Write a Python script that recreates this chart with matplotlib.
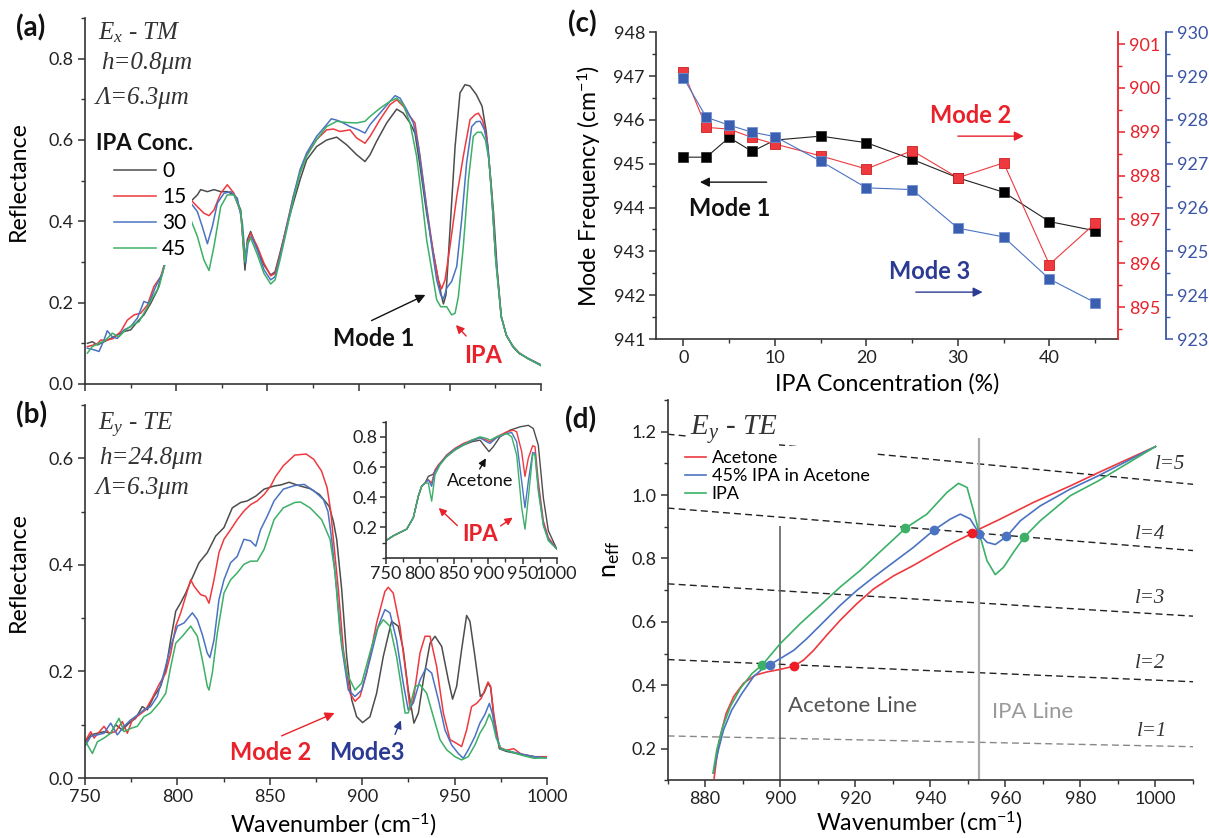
import matplotlib
matplotlib.use("Agg")
import matplotlib.pyplot as plt
from matplotlib.ticker import MultipleLocator

plt.rcParams['font.family'] = ['Lato', 'DejaVu Sans']
plt.rcParams['mathtext.fontset'] = 'custom'
plt.rcParams['mathtext.rm'] = 'Lato'
plt.rcParams['mathtext.it'] = 'Liberation Serif:italic'
plt.rcParams['mathtext.bf'] = 'Lato:bold'
plt.rcParams['axes.linewidth'] = 1.2

W, H = 1209, 838
GREY = '#4d4d4d'
RED = '#ee3a3f'
BLUE = '#4a73c2'
GREEN = '#3cb067'
TXT_RED = '#e8212a'
TXT_NAVY = '#2b3a92'
SERIF = 'Liberation Serif'
LABEL_SIZE = 16.7

# ---- (a) Ex-TM reflectance, IPA concentration 0/15/30/45 %
tm_0 = [(751.3, 0.100), (754, 0.104), (756.8, 0.096), (760.4, 0.104), (764.1, 0.112), (767.7, 0.121),
        (771.4, 0.129), (775, 0.133), (778.7, 0.153), (782.3, 0.170), (786, 0.198), (789.7, 0.231),
        (792.4, 0.272), (795.1, 0.318), (799, 0.38), (801.5, 0.41), (804.3, 0.432), (808, 0.449),
        (811.6, 0.465), (813.4, 0.478), (817.1, 0.473), (820.7, 0.478), (824.4, 0.473), (828, 0.473),
        (831.7, 0.465), (835.4, 0.428), (837.7, 0.28), (839, 0.355), (840.8, 0.375), (844.5, 0.330),
        (848.1, 0.293), (851.8, 0.268), (854.2, 0.276), (856.9, 0.322), (860.6, 0.387), (864.2, 0.445),
        (867.9, 0.502), (871.5, 0.551), (877, 0.584), (882.5, 0.6), (888, 0.607), (893.5, 0.588),
        (898.9, 0.564), (903.5, 0.547), (906.3, 0.564), (909.9, 0.597), (915.4, 0.642), (920.9, 0.676),
        (924.5, 0.666), (928.2, 0.642), (930.9, 0.617), (933.7, 0.535), (937.3, 0.420), (941, 0.322),
        (943.7, 0.256), (945.5, 0.215), (946.5, 0.197), (947.9, 0.219), (950.1, 0.379), (952.9, 0.584),
        (955.6, 0.716), (958.3, 0.736), (961, 0.733), (964.5, 0.712), (967.7, 0.683), (970, 0.62),
        (972.5, 0.5), (974, 0.42), (976, 0.28), (978.2, 0.166), (981, 0.12), (984.5, 0.092),
        (988, 0.075), (992.9, 0.063), (1000, 0.047)]
tm_15 = [(751.3, 0.092), (754, 0.095), (757, 0.1), (758.6, 0.108), (762.2, 0.108), (765.5, 0.112),
         (769.6, 0.129), (773.2, 0.157), (776.9, 0.170), (780.5, 0.174), (784.2, 0.194), (787.8, 0.24),
         (791.5, 0.264), (795.1, 0.318), (799, 0.38), (801.5, 0.415), (804.3, 0.436), (808, 0.453),
         (811.6, 0.436), (815.2, 0.42), (818, 0.414), (820.7, 0.428), (824.4, 0.469), (828, 0.490),
         (831.7, 0.469), (835.4, 0.42), (837.6, 0.305), (839, 0.346), (840.8, 0.371), (844.5, 0.338),
         (848.1, 0.297), (851.8, 0.266), (854.2, 0.272), (856.9, 0.318), (860.6, 0.391), (864.2, 0.461),
         (867.9, 0.519), (871.5, 0.564), (877, 0.601), (882.5, 0.625), (886.2, 0.627), (889.8, 0.621),
         (895.3, 0.625), (898.9, 0.605), (903.5, 0.592), (906.3, 0.609), (911.7, 0.650), (917.2, 0.687),
         (920.9, 0.699), (924.5, 0.683), (928.2, 0.658), (930.9, 0.642), (933.7, 0.560), (937.3, 0.436),
         (941, 0.322), (943.7, 0.256), (945.5, 0.234), (947.4, 0.256), (950.1, 0.338), (953.8, 0.461),
         (957.4, 0.560), (961.1, 0.650), (963.8, 0.662), (965.7, 0.666), (968, 0.648), (970.5, 0.6),
         (972.8, 0.48), (975, 0.32), (978.2, 0.166), (981, 0.12), (984.5, 0.094), (988, 0.077),
         (992.9, 0.062), (1000, 0.046)]
tm_30 = [(751.3, 0.088), (755, 0.084), (757.7, 0.080), (760.4, 0.108), (762.2, 0.131), (765, 0.116),
         (767.7, 0.112), (771.4, 0.133), (775, 0.141), (778.7, 0.162), (782.3, 0.203), (785.1, 0.198),
         (788.7, 0.239), (792.4, 0.272), (795.1, 0.318), (799, 0.38), (801.5, 0.41), (804.3, 0.432),
         (808, 0.445), (811.6, 0.424), (814.3, 0.387), (817.1, 0.345), (819.8, 0.387), (822.6, 0.445),
         (826.2, 0.469), (829.9, 0.473), (833.5, 0.457), (836.3, 0.395), (838.1, 0.297), (839.4, 0.346),
         (841.2, 0.363), (844.5, 0.330), (848.1, 0.281), (851.8, 0.256), (854.2, 0.264), (856.9, 0.313),
         (860.6, 0.387), (864.2, 0.461), (867.9, 0.527), (871.5, 0.568), (877, 0.609), (882.5, 0.638),
         (885, 0.652), (887.1, 0.650), (889.8, 0.646), (895.3, 0.633), (899.9, 0.625), (903.5, 0.617),
         (906.3, 0.638), (911.7, 0.666), (917.2, 0.695), (920, 0.709), (922.7, 0.703), (926.4, 0.674),
         (930, 0.642), (932.8, 0.584), (936.4, 0.461), (940.1, 0.338), (942.8, 0.256), (945, 0.219),
         (946.5, 0.209), (948.3, 0.236), (951, 0.252), (953.8, 0.289), (956.5, 0.404), (959.2, 0.543),
         (962, 0.633), (964.5, 0.645), (966.7, 0.646), (969, 0.625), (971, 0.58), (973, 0.46),
         (975, 0.32), (978.2, 0.166), (981, 0.12), (984.5, 0.093), (988, 0.076), (992.9, 0.063),
         (1000, 0.046)]
tm_45 = [(751.3, 0.076), (754, 0.092), (757.7, 0.100), (761.3, 0.108), (765, 0.125), (768.6, 0.116),
         (772.3, 0.133), (775.9, 0.145), (779.6, 0.153), (783.3, 0.182), (786.9, 0.211), (790.6, 0.239),
         (795.1, 0.318), (799, 0.37), (801.5, 0.40), (804.3, 0.416), (808, 0.404), (811.6, 0.363),
         (815.2, 0.305), (818, 0.279), (820.7, 0.338), (824.4, 0.436), (828, 0.465), (831.7, 0.465),
         (835.4, 0.424), (837.6, 0.301), (839, 0.346), (840.8, 0.359), (844.5, 0.318), (848.1, 0.272),
         (851.8, 0.246), (854.2, 0.256), (856.9, 0.305), (860.6, 0.379), (864.2, 0.453), (867.9, 0.519),
         (871.5, 0.560), (877, 0.601), (882.5, 0.633), (888, 0.646), (893.5, 0.643), (898.9, 0.642),
         (903.5, 0.646), (906.3, 0.658), (911.7, 0.678), (917.2, 0.695), (920.9, 0.703), (924.5, 0.687),
         (928.2, 0.642), (931.8, 0.560), (934.6, 0.461), (937.3, 0.355), (941, 0.256), (942.8, 0.207),
         (945, 0.190), (948.3, 0.190), (951, 0.170), (952.9, 0.174), (954.7, 0.215), (957.4, 0.338),
         (960.2, 0.502), (962.9, 0.609), (965, 0.619), (967.3, 0.619), (969.5, 0.6), (971.5, 0.55),
         (973.5, 0.43), (975.2, 0.3), (978.2, 0.166), (981, 0.12), (984.5, 0.093), (988, 0.076),
         (992.9, 0.062), (1000, 0.045)]

# ---- (b) Ey-TE reflectance
te_0 = [(750.4, 0.068), (753.1, 0.081), (756.7, 0.084), (760.3, 0.087), (763.9, 0.084), (766.6, 0.100),
        (770.2, 0.090), (773.8, 0.103), (777.4, 0.112), (781, 0.134), (783.7, 0.128), (787.3, 0.153),
        (790.9, 0.172), (793.7, 0.203), (796.4, 0.260), (799.1, 0.313), (801.8, 0.329), (804.5, 0.347),
        (807.2, 0.369), (811.7, 0.404), (816.2, 0.423), (820.7, 0.454), (825.2, 0.470), (829.7, 0.507),
        (834.2, 0.517), (837.8, 0.520), (842.4, 0.529), (846.9, 0.542), (852.3, 0.548), (856, 0.55),
        (860.4, 0.555), (866.4, 0.548), (871.8, 0.543), (876.9, 0.532), (882.1, 0.510), (884.5, 0.48),
        (886.2, 0.448), (888.9, 0.354), (891.6, 0.228), (894.3, 0.147), (897, 0.115), (900.2, 0.104),
        (904.2, 0.115), (907.8, 0.159), (911.4, 0.228), (915.9, 0.294), (919.5, 0.285), (922.2, 0.241),
        (924.9, 0.166), (928, 0.103), (930.4, 0.122), (933.1, 0.184), (936.7, 0.253), (939.4, 0.266),
        (943, 0.247), (946.6, 0.184), (948.9, 0.148), (951.1, 0.172), (953.8, 0.241), (956.5, 0.305),
        (958.3, 0.294), (961, 0.228), (963.9, 0.153), (966, 0.16), (968.1, 0.178), (969.5, 0.17),
        (971.2, 0.115), (974.2, 0.055), (978, 0.05), (985, 0.045), (993, 0.04), (1000, 0.038)]
te_15 = [(750.4, 0.071), (753.1, 0.087), (754.9, 0.075), (760.3, 0.097), (763, 0.084), (766.6, 0.087),
         (770.2, 0.106), (772.9, 0.084), (775.6, 0.109), (779.2, 0.118), (782.8, 0.128), (786.4, 0.150),
         (790, 0.175), (793.7, 0.197), (796.4, 0.234), (799.1, 0.285), (801.8, 0.310), (804.5, 0.341),
         (807.2, 0.372), (809, 0.360), (812.6, 0.344), (815.3, 0.341), (817.1, 0.328), (819.8, 0.372),
         (822.5, 0.423), (825.2, 0.448), (828.8, 0.466), (832.4, 0.485), (836, 0.501), (839.6, 0.513),
         (843.2, 0.520), (846.9, 0.532), (850.5, 0.548), (853, 0.565), (857.3, 0.586), (863.5, 0.606),
         (869.7, 0.608), (873.8, 0.598), (878, 0.576), (881, 0.545), (883, 0.50), (884.4, 0.448),
         (887.1, 0.354), (889.8, 0.241), (893.4, 0.159), (896.1, 0.144), (898.8, 0.153), (902.4, 0.197),
         (907.8, 0.291), (912.3, 0.350), (914.1, 0.358), (916.8, 0.347), (920.4, 0.285), (924.1, 0.184),
         (925.9, 0.128), (927.7, 0.147), (931.3, 0.235), (934, 0.266), (936.7, 0.266), (940.3, 0.209),
         (943.9, 0.122), (947.5, 0.072), (951.1, 0.065), (953.8, 0.059), (956.5, 0.090), (959.2, 0.134),
         (961.9, 0.140), (964.5, 0.15), (968.1, 0.18), (969.5, 0.172), (971.2, 0.12), (974.2, 0.058),
         (978, 0.052), (982, 0.055), (986, 0.045), (993, 0.04), (1000, 0.04)]
te_30 = [(750.4, 0.062), (753.1, 0.078), (756.7, 0.081), (760.3, 0.084), (763.9, 0.103), (767.5, 0.081),
         (771.1, 0.097), (774.7, 0.109), (778.3, 0.118), (781.9, 0.128), (785.5, 0.134), (789.1, 0.153),
         (792.7, 0.197), (796.4, 0.247), (800, 0.285), (803.6, 0.291), (808.1, 0.310), (810.8, 0.297),
         (813.5, 0.269), (816.2, 0.234), (817.6, 0.226), (819.8, 0.259), (822.5, 0.335), (825.2, 0.372),
         (828.8, 0.404), (832.4, 0.416), (836, 0.448), (839.6, 0.445), (842.4, 0.435), (845, 0.466),
         (848.7, 0.492), (852.3, 0.520), (857.3, 0.542), (863.5, 0.549), (868.6, 0.551), (873.8, 0.539),
         (879, 0.523), (881.5, 0.5), (883.5, 0.448), (886.2, 0.354), (888.9, 0.247), (892.5, 0.165),
         (896.1, 0.153), (899.7, 0.165), (904.2, 0.222), (908.7, 0.285), (912.3, 0.316), (915, 0.310),
         (918.6, 0.259), (922.2, 0.178), (924.9, 0.128), (927.7, 0.141), (931.3, 0.184), (934.5, 0.206),
         (937.6, 0.197), (941.2, 0.147), (944.8, 0.090), (948.4, 0.062), (952, 0.046), (954.7, 0.037),
         (957.4, 0.053), (961, 0.078), (963.7, 0.103), (966.5, 0.12), (968.8, 0.14), (970.5, 0.12),
         (972.5, 0.08), (975, 0.055), (980, 0.05), (986, 0.045), (993, 0.04), (1000, 0.038)]
te_45 = [(750.4, 0.068), (754, 0.046), (756.7, 0.068), (760.3, 0.075), (763.9, 0.084), (768.4, 0.112),
         (771.1, 0.087), (774.7, 0.093), (778.3, 0.097), (781.9, 0.115), (785.5, 0.122), (790, 0.140),
         (793.7, 0.159), (796.4, 0.209), (799.1, 0.253), (802.7, 0.266), (807.2, 0.285), (810.8, 0.266),
         (813.5, 0.222), (816.2, 0.172), (817.1, 0.165), (818.9, 0.197), (821.6, 0.272), (825.2, 0.347),
         (828.8, 0.372), (832.4, 0.385), (836, 0.401), (839.6, 0.407), (843.2, 0.407), (846.9, 0.429),
         (850.5, 0.466), (852.3, 0.485), (857.3, 0.507), (863.5, 0.517), (866.6, 0.518), (871.8, 0.507),
         (878, 0.485), (880.5, 0.465), (882.6, 0.448), (885.3, 0.385), (888, 0.272), (891.6, 0.197),
         (896.1, 0.165), (899.7, 0.178), (904.2, 0.235), (907.8, 0.278), (911.4, 0.297), (915, 0.285),
         (918.6, 0.228), (921.4, 0.166), (923.2, 0.122), (924.9, 0.122), (928.6, 0.172), (931.3, 0.175),
         (934.9, 0.159), (938.5, 0.115), (942.1, 0.072), (945.7, 0.053), (950.2, 0.040), (953.8, 0.034),
         (957.4, 0.040), (961, 0.062), (963.7, 0.084), (966.5, 0.1), (968.8, 0.12), (970.5, 0.105),
         (972.5, 0.075), (975, 0.055), (980, 0.05), (986, 0.043), (993, 0.037), (1000, 0.038)]

# ---- inset of (b): thick-film spectra showing the acetone / IPA absorption dips
ins_start = [(750, 0.112), (761.2, 0.145), (770.9, 0.167), (780.7, 0.189), (790.4, 0.265),
             (797.7, 0.407), (802.6, 0.473), (807.5, 0.494)]
ins_0 = ins_start + [(812.3, 0.538), (819.6, 0.553), (827, 0.614), (839.1, 0.669), (851.3, 0.713),
                     (863.5, 0.745), (875.7, 0.767), (887.9, 0.778), (895.2, 0.735), (901, 0.702),
                     (907.4, 0.735), (917.1, 0.800), (931.7, 0.844), (946.3, 0.866), (958.5, 0.876),
                     (965.8, 0.855), (973.1, 0.745), (980.5, 0.396), (987.8, 0.178), (1000, 0.058)]
ins_15 = ins_start + [(812.3, 0.516), (817.2, 0.494), (822.1, 0.582), (829.4, 0.625), (839.1, 0.68),
                      (851.3, 0.724), (863.5, 0.756), (875.7, 0.778), (887.9, 0.794), (897.6, 0.778),
                      (902.5, 0.767), (912.2, 0.8), (926.9, 0.833), (936.6, 0.844), (941.5, 0.833),
                      (948.8, 0.702), (953.6, 0.538), (958.5, 0.658), (964.9, 0.741), (968.3, 0.735),
                      (973.1, 0.505), (980.5, 0.243), (987.8, 0.134), (1000, 0.058)]
ins_30 = ins_start + [(812.3, 0.516), (817.2, 0.473), (822.1, 0.571), (829.4, 0.619), (839.1, 0.675),
                      (851.3, 0.719), (863.5, 0.75), (875.7, 0.772), (887.9, 0.794), (897.6, 0.767),
                      (902.5, 0.756), (912.2, 0.794), (926.9, 0.822), (934.2, 0.828), (941.5, 0.767),
                      (948.8, 0.505), (953.6, 0.331), (958.5, 0.505), (964.9, 0.697), (968.3, 0.691),
                      (973.1, 0.462), (980.5, 0.222), (987.8, 0.123), (1000, 0.058)]
ins_45 = ins_start + [(812.3, 0.494), (817.2, 0.374), (822.1, 0.549), (829.4, 0.614), (839.1, 0.669),
                      (851.3, 0.713), (863.5, 0.745), (875.7, 0.778), (887.9, 0.8), (897.6, 0.789),
                      (902.5, 0.778), (912.2, 0.80), (926.9, 0.822), (934.2, 0.8), (941.5, 0.68),
                      (948.8, 0.331), (953.6, 0.189), (958.5, 0.396), (964.9, 0.684), (968.3, 0.68),
                      (973.1, 0.44), (980.5, 0.211), (987.8, 0.112), (1000, 0.058)]

# ---- (c) mode frequencies vs IPA concentration
conc = [0, 2.5, 5, 7.5, 10, 15, 20, 25, 30, 35, 40, 45]
mode1 = [945.15, 945.15, 945.60, 945.28, 945.54, 945.63, 945.48, 945.10, 944.68, 944.35, 943.68, 943.47]
mode2 = [900.37, 899.10, 899.06, 898.87, 898.72, 898.45, 898.15, 898.57, 897.95, 898.29, 895.97, 896.91]
mode3 = [928.96, 928.06, 927.88, 927.72, 927.62, 927.06, 926.45, 926.41, 925.53, 925.33, 924.37, 923.83]

# ---- (d) effective index dispersion and grating orders
neff_acetone = [(882.4, 0.107), (883.0, 0.164), (884.0, 0.238), (885.6, 0.311), (887.6, 0.364),
                (890.2, 0.406), (893.4, 0.432), (896.5, 0.442), (900.0, 0.450), (903.6, 0.460),
                (906.2, 0.479), (908.9, 0.510), (912.4, 0.558), (916.0, 0.605), (920.4, 0.657),
                (924.9, 0.704), (930.2, 0.745), (935.5, 0.778), (940.9, 0.815), (946.2, 0.850),
                (951.1, 0.879), (953.1, 0.893), (958.6, 0.924), (967.5, 0.977), (977.3, 1.029),
                (984.8, 1.071), (1000, 1.153)]
neff_mix = [(882.2, 0.123), (883.3, 0.185), (884.9, 0.259), (887.1, 0.322), (889.8, 0.374),
            (892.9, 0.427), (895.3, 0.452), (897.3, 0.465), (900.0, 0.484), (903.6, 0.510),
            (907.1, 0.547), (911.6, 0.600), (916.0, 0.652), (920.4, 0.699), (924.9, 0.741),
            (930.2, 0.788), (935.5, 0.835), (940.9, 0.889), (945.3, 0.924), (948.0, 0.940),
            (950.6, 0.925), (953.1, 0.877), (955.1, 0.851), (957.3, 0.844), (960.4, 0.870),
            (964.0, 0.919), (969.3, 0.966), (977.3, 1.019), (984.8, 1.061), (1000, 1.153)]
neff_ipa = [(882.1, 0.123), (883.1, 0.196), (884.7, 0.269), (886.7, 0.332), (889.4, 0.390),
            (892.5, 0.437), (895.3, 0.465), (900.0, 0.531), (905.3, 0.594), (910.7, 0.652),
            (916.0, 0.710), (921.3, 0.762), (926.7, 0.822), (932.0, 0.880), (933.3, 0.895),
            (939.1, 0.940), (944.4, 1.008), (947.5, 1.037), (949.8, 1.024), (951.5, 0.951),
            (953.1, 0.877), (955.1, 0.793), (957.3, 0.749), (959.5, 0.772), (962.2, 0.820),
            (965.0, 0.867), (969.3, 0.919), (977.3, 0.998), (984.8, 1.045), (1000, 1.153)]
dots_ipa = [(895.2, 0.465), (933.3, 0.895), (964.9, 0.867)]
dots_mix = [(897.4, 0.465), (940.9, 0.889), (953.1, 0.876), (960.3, 0.871)]
dots_acetone = [(903.8, 0.460), (951.1, 0.879)]
order_x = [870, 1010]
order_n = {1: [0.240, 0.206], 2: [0.481, 0.411], 3: [0.720, 0.618], 4: [0.959, 0.825], 5: [1.192, 1.034]}
order_label_pos = {1: (999, 0.253), 2: (998.5, 0.468), 3: (998.5, 0.675), 4: (998.5, 0.877), 5: (1003.8, 1.097)}
acetone_line = 900.0
ipa_line = 953.1


def px_box(left, top, right, bottom):
    return [left / W, 1 - bottom / H, (right - left) / W, (bottom - top) / H]


def style_axis(ax, labelsize=13):
    ax.spines['top'].set_visible(False)
    ax.spines['right'].set_visible(False)
    for s in ('left', 'bottom'):
        ax.spines[s].set_color('#333333')
    ax.tick_params(which='major', direction='out', length=5, width=1.1, labelsize=labelsize,
                   color='#333333', labelcolor='#222222', pad=3)
    ax.tick_params(which='minor', direction='out', length=3, width=1.0, color='#333333')


def draw(ax, pts, color, lw=1.1):
    xs, ys = zip(*pts)
    return ax.plot(xs, ys, color=color, lw=lw)[0]


def white_frame(leg):
    leg.get_frame().set_facecolor('white')
    leg.get_frame().set_edgecolor('none')
    leg.get_frame().set_alpha(1)


fig = plt.figure(figsize=(W / 100, H / 100), dpi=100)

# ================= (a)
ax_a = fig.add_axes(px_box(85, 18, 541, 384))
handles = []
for pts, c in ((tm_0, GREY), (tm_15, RED), (tm_30, BLUE), (tm_45, GREEN)):
    handles.append(draw(ax_a, pts, c))
ax_a.set_xlim(750, 1000)
ax_a.set_ylim(0, 0.9)
ax_a.set_yticks([0.0, 0.2, 0.4, 0.6, 0.8])
ax_a.xaxis.set_major_locator(MultipleLocator(50))
ax_a.xaxis.set_minor_locator(MultipleLocator(25))
ax_a.yaxis.set_minor_locator(MultipleLocator(0.1))
style_axis(ax_a)
ax_a.tick_params(labelbottom=False)
ax_a.set_ylabel('Reflectance', fontsize=LABEL_SIZE)
ax_a.yaxis.set_label_coords(-0.123, 0.555)

leg = ax_a.legend(handles, ['0', '15', '30', '45'], loc='upper left', bbox_to_anchor=(0.05, 0.625),
                  borderaxespad=0, fontsize=15, handlelength=2.0, handletextpad=0.3,
                  labelspacing=0.28, borderpad=0.3, frameon=True, fancybox=False)
white_frame(leg)
ax_a.text(0.024, 0.656, 'IPA Conc.', transform=ax_a.transAxes, fontsize=16, fontweight='bold',
          va='center', ha='left', color='#111111')

ax_a.text(0.0285, 0.959, r'$E_x$ - TM', transform=ax_a.transAxes, family=SERIF, style='italic',
          fontsize=18, va='center', color='#333333')
ax_a.text(0.035, 0.877, 'h=0.8μm', transform=ax_a.transAxes, family=SERIF, style='italic',
          fontsize=18, va='center', color='#333333')
ax_a.text(0.024, 0.781, 'Λ=6.3μm', transform=ax_a.transAxes, family=SERIF, style='italic',
          fontsize=18, va='center', color='#333333')

ax_a.text(908.4, 0.111, 'Mode 1', fontsize=17, fontweight='bold', ha='center', va='center',
          color='#111111')
ax_a.annotate('', xy=(938.0, 0.222), xytext=(905.7, 0.153),
              arrowprops=dict(arrowstyle='-|>', color='#111111', lw=1.0, mutation_scale=14))
ax_a.text(968.2, 0.069, 'IPA', fontsize=17, fontweight='bold', ha='center', va='center',
          color=TXT_RED)
ax_a.annotate('', xy=(952.3, 0.150), xytext=(960.0, 0.113),
              arrowprops=dict(arrowstyle='-|>', color=TXT_RED, lw=1.0, mutation_scale=12))

# ================= (b)
ax_b = fig.add_axes(px_box(85, 405, 547, 778))
for pts, c in ((te_0, GREY), (te_15, RED), (te_30, BLUE), (te_45, GREEN)):
    draw(ax_b, pts, c)
ax_b.set_xlim(750, 1000)
ax_b.set_ylim(0, 0.7)
ax_b.set_yticks([0.0, 0.2, 0.4, 0.6])
ax_b.xaxis.set_major_locator(MultipleLocator(50))
ax_b.xaxis.set_minor_locator(MultipleLocator(25))
ax_b.yaxis.set_minor_locator(MultipleLocator(0.1))
style_axis(ax_b)
ax_b.set_ylabel('Reflectance', fontsize=LABEL_SIZE)
ax_b.yaxis.set_label_coords(-0.122, 0.553)
ax_b.set_xlabel('Wavenumber (cm$^{-1}$)', fontsize=LABEL_SIZE)
ax_b.xaxis.set_label_coords(0.537, -0.09)

ax_b.text(0.028, 0.944, r'$E_y$ - TE', transform=ax_b.transAxes, family=SERIF, style='italic',
          fontsize=18, va='center', color='#333333')
ax_b.text(0.030, 0.858, 'h=24.8μm', transform=ax_b.transAxes, family=SERIF, style='italic',
          fontsize=18, va='center', color='#333333')
ax_b.text(0.024, 0.777, 'Λ=6.3μm', transform=ax_b.transAxes, family=SERIF, style='italic',
          fontsize=18, va='center', color='#333333')

ax_b.text(850.6, 0.047, 'Mode 2', fontsize=17, fontweight='bold', ha='center', va='center',
          color=TXT_RED)
ax_b.annotate('', xy=(886.4, 0.124), xytext=(855.0, 0.077),
              arrowprops=dict(arrowstyle='-|>', color=TXT_RED, lw=1.0, mutation_scale=14))
ax_b.text(902.6, 0.047, 'Mode3', fontsize=17, fontweight='bold', ha='center', va='center',
          color=TXT_NAVY)
ax_b.annotate('', xy=(921.5, 0.113), xytext=(917.2, 0.077),
              arrowprops=dict(arrowstyle='-|>', color=TXT_NAVY, lw=1.0, mutation_scale=12))

# inset
ax_in = fig.add_axes(px_box(385.7, 421.7, 556.7, 557.7))
for pts, c in ((ins_0, GREY), (ins_15, RED), (ins_30, BLUE), (ins_45, GREEN)):
    draw(ax_in, pts, c, lw=1.0)
ax_in.set_xlim(750, 1000)
ax_in.set_ylim(0, 0.9)
ax_in.set_xticks([750, 800, 850, 900, 950, 1000])
ax_in.set_yticks([0.2, 0.4, 0.6, 0.8])
ax_in.xaxis.set_minor_locator(MultipleLocator(25))
ax_in.yaxis.set_minor_locator(MultipleLocator(0.1))
style_axis(ax_in)
ax_in.tick_params(which='major', length=4, pad=2)
ax_in.text(887.4, 0.505, 'Acetone', fontsize=13, ha='center', va='center', color='#111111')
ax_in.annotate('', xy=(898.5, 0.674), xytext=(885.4, 0.571),
               arrowprops=dict(arrowstyle='-|>', color='#111111', lw=1.0, mutation_scale=11))
ax_in.text(887.4, 0.156, 'IPA', fontsize=16, fontweight='bold', ha='center', va='center',
           color=TXT_RED)
ax_in.annotate('', xy=(824.6, 0.342), xytext=(857.6, 0.2),
               arrowprops=dict(arrowstyle='-|>', color=TXT_RED, lw=1.0, mutation_scale=11))
ax_in.annotate('', xy=(939.0, 0.276), xytext=(914.6, 0.2),
               arrowprops=dict(arrowstyle='-|>', color=TXT_RED, lw=1.0, mutation_scale=11))

# ================= (c)
ax_c = fig.add_axes(px_box(656, 32.3, 1118, 339))
ax_c.plot(conc, mode1, color='#222222', lw=0.8, marker='s', ms=6.5, mfc='black', mec='#333333', mew=0.6)
ax_c.set_xlim(-3, 47.5)
ax_c.set_ylim(941, 948)
ax_c.xaxis.set_major_locator(MultipleLocator(10))
ax_c.xaxis.set_minor_locator(MultipleLocator(5))
ax_c.yaxis.set_major_locator(MultipleLocator(1))
ax_c.yaxis.set_minor_locator(MultipleLocator(0.5))
style_axis(ax_c)
ax_c.set_xlabel('IPA Concentration (%)', fontsize=LABEL_SIZE)
ax_c.xaxis.set_label_coords(0.5, -0.11)
ax_c.set_ylabel('Mode Frequency (cm$^{-1}$)', fontsize=LABEL_SIZE)
ax_c.yaxis.set_label_coords(-0.115, 0.5)

ax_r = ax_c.twinx()
ax_r.plot(conc, mode2, color=RED, lw=0.8, marker='s', ms=6.5, mfc=RED, mec='#cc2020', mew=0.6)
ax_r.set_ylim(894.27, 901.27)
ax_r.yaxis.set_major_locator(MultipleLocator(1))
ax_r.yaxis.set_minor_locator(MultipleLocator(0.5))

ax_bl = ax_c.twinx()
ax_bl.spines['right'].set_position(('outward', 48 * 0.72))
ax_bl.plot(conc, mode3, color=BLUE, lw=0.8, marker='s', ms=6.5, mfc='#3a5fb0', mec='#6f8fd0', mew=0.6)
ax_bl.set_ylim(923, 930)
ax_bl.yaxis.set_major_locator(MultipleLocator(1))
ax_bl.yaxis.set_minor_locator(MultipleLocator(0.5))

for tw, col in ((ax_r, TXT_RED), (ax_bl, '#3b55a6')):
    for s in ('top', 'left', 'bottom'):
        tw.spines[s].set_visible(False)
    tw.spines['right'].set_color(col)
    tw.spines['right'].set_linewidth(1.3)
    tw.tick_params(which='major', direction='out', length=5, width=1.1, labelsize=13,
                   color=col, labelcolor=col, pad=3)
    tw.tick_params(which='minor', direction='out', length=3, width=1.0, color=col)

ax_c.text(31.4, 946.11, 'Mode 2', fontsize=17, fontweight='bold', ha='center', va='center',
          color=TXT_RED)
ax_c.annotate('', xy=(37.5, 945.63), xytext=(29.7, 945.63),
              arrowprops=dict(arrowstyle='-|>', color=TXT_RED, lw=1.0, mutation_scale=14))
ax_c.text(5.1, 943.97, 'Mode 1', fontsize=17, fontweight='bold', ha='center', va='center',
          color='#111111')
ax_c.annotate('', xy=(1.5, 944.58), xytext=(9.4, 944.58),
              arrowprops=dict(arrowstyle='-|>', color='#111111', lw=1.0, mutation_scale=14))
ax_c.text(26.9, 942.55, 'Mode 3', fontsize=17, fontweight='bold', ha='center', va='center',
          color=TXT_NAVY)
ax_c.annotate('', xy=(33.0, 942.07), xytext=(25.1, 942.07),
              arrowprops=dict(arrowstyle='-|>', color=TXT_NAVY, lw=1.0, mutation_scale=14))

# ================= (d)
ax_d = fig.add_axes(px_box(667.6, 400, 1193, 780.3))
for l, ns in order_n.items():
    ax_d.plot(order_x, ns, ls=(0, (5, 3)), lw=1.0, color='#888888' if l == 1 else '#222222', zorder=1)
    lx, ly = order_label_pos[l]
    ax_d.text(lx, ly, f'l={l}', family=SERIF, style='italic', fontsize=15, ha='center', va='center',
              color='#333333')
ax_d.vlines(acetone_line, 0.1, 0.903, color='#555555', lw=1.1, zorder=1)
ax_d.vlines(ipa_line, 0.1, 1.181, color='#aaaaaa', lw=1.6, zorder=1)

h_ac = draw(ax_d, neff_acetone, RED, lw=1.2)
h_mx = draw(ax_d, neff_mix, BLUE, lw=1.2)
h_ip = draw(ax_d, neff_ipa, GREEN, lw=1.2)
for pts, c in ((dots_ipa, GREEN), (dots_mix, BLUE), (dots_acetone, '#ee1c24')):
    xs, ys = zip(*pts)
    ax_d.plot(xs, ys, ls='none', marker='o', ms=6, color=c, zorder=4)

ax_d.set_xlim(870, 1010)
ax_d.set_ylim(0.1, 1.3)
ax_d.xaxis.set_major_locator(MultipleLocator(20))
ax_d.xaxis.set_minor_locator(MultipleLocator(10))
ax_d.set_yticks([0.2, 0.4, 0.6, 0.8, 1.0, 1.2])
ax_d.yaxis.set_minor_locator(MultipleLocator(0.1))
style_axis(ax_d)
ax_d.set_xlabel('Wavenumber (cm$^{-1}$)', fontsize=LABEL_SIZE)
ax_d.xaxis.set_label_coords(0.48, -0.078)
ax_d.set_ylabel(r'n$_{\mathrm{eff}}$', fontsize=18)
ax_d.yaxis.set_label_coords(-0.087, 0.58)

ax_d.text(902.2, 0.334, 'Acetone Line', fontsize=16, ha='left', va='center', color='#555555')
ax_d.text(956.4, 0.316, 'IPA Line', fontsize=16, ha='left', va='center', color='#9a9a9a')
ax_d.text(876, 1.208, r'$E_y$ - TE', family=SERIF, style='italic', fontsize=21, ha='left',
          va='center', color='#333333', zorder=5,
          bbox=dict(facecolor='white', edgecolor='none', pad=1))

leg_d = ax_d.legend([h_ac, h_mx, h_ip], ['Acetone', '45% IPA in Acetone', 'IPA'], loc='upper left',
                    bbox_to_anchor=(0.024, 0.88), borderaxespad=0, fontsize=13, handlelength=1.2,
                    handletextpad=0.3, labelspacing=0.12, borderpad=0.25, frameon=True, fancybox=False)
white_frame(leg_d)

# panel letters
for x, y, s in ((0.013, 0.967, '(a)'), (0.013, 0.505, '(b)'), (0.470, 0.972, '(c)'), (0.467, 0.499, '(d)')):
    fig.text(x, y, s, fontsize=20, fontweight='bold', ha='left', va='center', color='#111111')

fig.savefig('out.png', dpi=100)
